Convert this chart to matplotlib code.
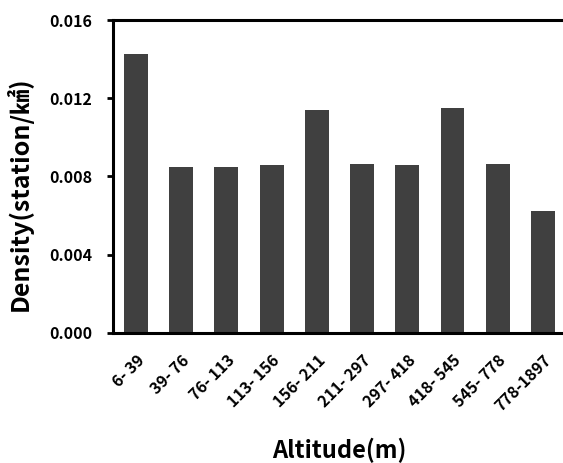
import matplotlib
matplotlib.use('Agg')
import matplotlib.pyplot as plt

# 데이터
altitude_bins = ['6- 39', '39- 76', '76- 113', '113- 156', '156- 211',
                 '211- 297', '297- 418', '418- 545', '545- 778', '778-1897']
density = [0.01425, 0.0085, 0.0085, 0.00857, 0.01142,
           0.00864, 0.00857, 0.01149, 0.00864, 0.00625]
y_ticks = [0.000, 0.004, 0.008, 0.012, 0.016]

plt.rcParams['font.family'] = ['Noto Sans CJK KR', 'DejaVu Sans']
plt.rcParams['font.weight'] = 'bold'

fig = plt.figure(figsize=(5.63, 4.63), dpi=100)
ax = fig.add_axes([0.2007, 0.2808, 0.8046, 0.676])

x = range(len(density))
ax.bar(x, density, width=0.53, color='#404040')

ax.set_xlim(-0.51, len(density) - 0.49)
ax.set_ylim(0, 0.016)
ax.set_yticks(y_ticks)
ax.set_yticklabels([f'{v:.3f}' for v in y_ticks], fontsize=11.5, fontweight='bold')
ax.set_xticks(list(x))
ax.set_xticklabels(altitude_bins, rotation=45, ha='right', rotation_mode='anchor',
                   fontsize=11.5, fontweight='bold')

for s in ax.spines.values():
    s.set_linewidth(2.2)
ax.tick_params(axis='y', direction='out', length=4, width=2, pad=11)
ax.tick_params(axis='x', length=0, pad=14)

ax.set_ylabel('Density(station/㎢)', fontsize=18, fontweight='bold')
ax.yaxis.set_label_coords(-0.177, 0.446)
ax.set_xlabel('Altitude(m)', fontsize=17, fontweight='bold', labelpad=17)

fig.savefig('out.png', dpi=100)
